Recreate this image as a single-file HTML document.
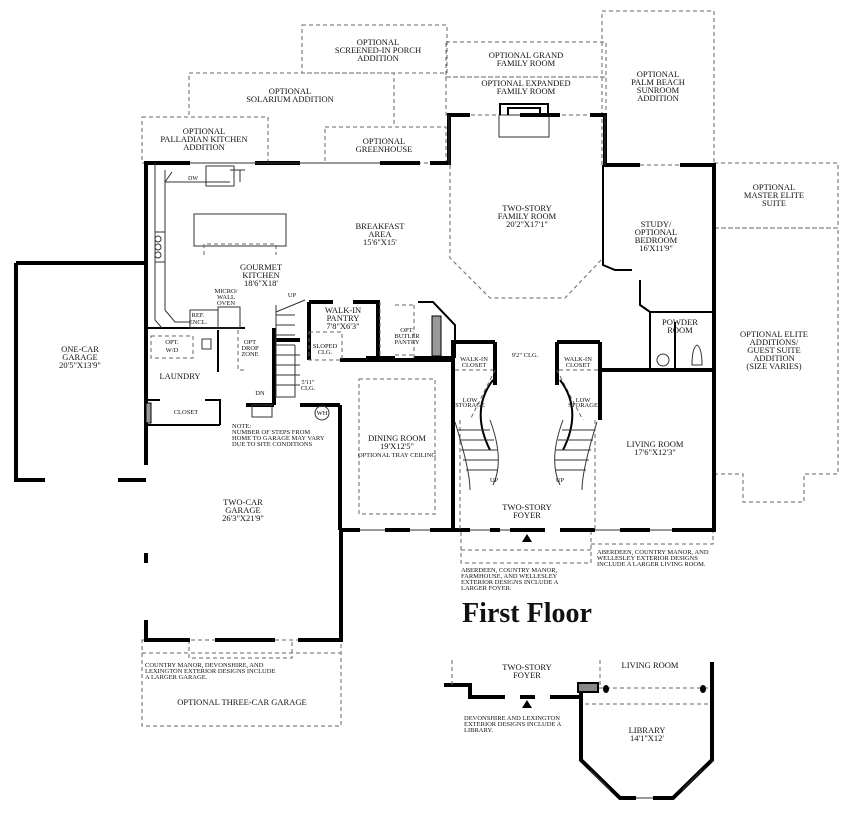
<!DOCTYPE html>
<html><head><meta charset="utf-8"><style>
html,body{margin:0;padding:0;background:#fff;}
svg{display:block;}
text{font-family:"Liberation Serif",serif;fill:#111;}
.t{font-size:8.5px;text-anchor:middle;}
.s{font-size:6.5px;}
.w{stroke:#000;stroke-width:4;fill:none;}
.tw{stroke:#000;stroke-width:2;fill:none;}
.d{stroke:#666;stroke-width:1;stroke-dasharray:4,3;fill:none;}
.l{stroke:#333;stroke-width:1;fill:none;}
</style></head><body>
<svg width="853" height="815" viewBox="0 0 853 815" xmlns="http://www.w3.org/2000/svg">
<rect class="d" x="302" y="25" width="145" height="48"/>
<rect class="d" x="446" y="42" width="160" height="35"/>
<rect class="d" x="446" y="77" width="160" height="38"/>
<rect class="d" x="602" y="11" width="112" height="154"/>
<path class="d" d="M189 115 V73 H394 V127"/>
<rect class="d" x="142" y="117" width="126" height="46"/>
<rect class="d" x="325" y="127" width="121" height="36"/>
<rect class="d" x="714" y="163" width="124" height="65"/>
<path class="d" d="M714 228 H838 V474 H804 V502 H743 V474 H714"/>
<rect class="d" x="142" y="640" width="199" height="86"/>
<path class="d" d="M142 653 H341 M189 640 V658 H292 V640"/>
<path class="d" d="M461 532 V563 H591 V532 M461 550 H591 M591 544 H713 V530"/>
<path class="d" d="M450 165 V258 L490 298 H565 L603 258 V165"/>
<rect class="l" x="499" y="115" width="50" height="22"/>
<path class="tw" d="M500 115 V104 H548 V115 M508 115 V108 H540 V115"/>
<path class="w" d="M146 163 H190 M255 163 H300 M380 163 H420 M430 163 H449 V115 H470 M520 115 H560 M590 115 H605 V165 H640 M680 165 H714 V532"/>
<path class="l" d="M190 163 H380"/>
<path class="l" d="M449 115 V165 M605 115 V165" stroke-width="1"/>
<path class="w" d="M146 161 V432"/>
<path class="w" d="M16 263 H146 M16 263 V482 M16 480 H45 M118 480 H146"/>
<path class="w" d="M146 430 V465 M146 553 V563 M146 620 V640 H190 M215 640 H275 M298 640 H341 V530"/>
<path class="w" d="M340 530 H360 M385 530 H410 M430 530 H470 M490 530 H500 M510 530 H545 M560 530 H595 M620 530 H650 M672 530 H714"/>
<path class="l" d="M360 530 H385 M410 530 H430 M470 530 H490 M500 530 H510 M595 530 H620 M650 530 H672"/>
<path class="w" d="M340 405 V530 M340 360 H453 M453 340 V530"/>
<path class="tw" d="M146 328 H245 M218 330 V372 M146 400 H160 M205 400 H220 V425 M146 425 H220"/>
<path class="w" d="M246 405 H274 M300 405 H340 M274 328 V405 M274 340 H300 M309 302 V360 M309 302 H333 M353 302 H380 M378 302 V358 M366 358 H395 M414 358 H455"/>
<path class="tw" d="M418 302 H433 L455 325 V358"/>
<rect x="432" y="316" width="9" height="40" fill="#999" stroke="#000"/>
<rect x="146" y="403" width="5" height="20" fill="#999" stroke="#000"/>
<path class="l" d="M155 163 V320 M155 320 L162 328 M165 170 V310 M165 310 L175 322 H190 M165 182 H230 M165 182 L172 172 M230 170 H245 M240 182 V170"/>
<rect class="l" x="190" y="310" width="28" height="18"/>
<rect class="l" x="218" y="307" width="22" height="21"/>
<rect class="l" x="206" y="166" width="28" height="20"/>
<rect class="l" x="155" y="232" width="10" height="30"/>
<circle class="l" cx="158" cy="239" r="3"/><circle class="l" cx="158" cy="247" r="3"/><circle class="l" cx="158" cy="255" r="3"/>
<rect class="l" x="194" y="214" width="92" height="32"/>
<path class="d" d="M204 255 V244 H276 V255"/>
<rect class="d" x="151" y="336" width="42" height="22"/>
<rect class="l" x="202" y="339" width="9" height="10"/>
<path class="d" d="M238 330 V370 H245"/>
<path class="l" d="M276 305 V397 H295 V345 M276 315 H295 M276 325 H295 M276 335 H295 M276 345 H295 M276 355 H300 M276 365 H300 M276 375 H300 M276 385 H300 M276 312 L305 300"/>
<rect class="d" x="309" y="332" width="33" height="28"/>
<path class="d" d="M380 302 V358 M395 305 H414 M395 355 H414 M414 305 V358"/>
<rect class="l" x="252" y="405" width="20" height="12"/>
<circle class="l" cx="322" cy="413" r="7"/>
<rect class="d" x="359" y="379" width="76" height="135"/>
<path class="w" d="M453 342 H495 M495 342 V385 M557 342 V385 M557 342 H600 M600 342 V420 M600 370 H714"/>
<path class="d" d="M455 370 H493 M559 370 H600 M495 370 Q485 390 470 420 M557 370 Q567 390 583 420 M460 420 V530 M595 420 V530"/>
<path class="tw" d="M493 380 Q470 410 490 450 M560 380 Q583 410 563 450"/>
<path class="l" d="M455 422 Q470 470 470 490 M490 420 Q505 460 493 485 M597 422 Q582 470 582 490 M563 420 Q548 460 560 485"/>
<path class="l" d="M458 430 H490 M459 440 H494 M461 450 H497 M463 460 H498 M466 470 H497 M594 430 H562 M593 440 H558 M591 450 H556 M589 460 H555 M586 470 H556"/>
<polygon points="527,534 522,542 532,542" fill="#000"/>
<path class="tw" d="M603 165 V265 L615 270 H632 M640 280 V305 L650 312 H712 M650 312 V370 M675 322 V370"/>
<circle class="l" cx="663" cy="360" r="6"/>
<path class="l" d="M692 365 Q692 348 697 345 Q702 348 702 365 Z"/>
<path class="w" d="M444 685 H470 V697 H505 M520 697 H535 M550 697 H583"/>
<path class="d" d="M452 660 V685 M600 660 V685 M585 688 H712 M585 704 H712"/>
<polygon points="527,700 522,708 532,708" fill="#000"/>
<rect x="578" y="683" width="20" height="9" fill="#888" stroke="#000" stroke-width="2"/>
<path class="w" d="M581 693 V760 L620 798 H636 M653 798 H673 L712 760 V662"/>
<path class="l" d="M636 798 H653 M590 770 L610 790 M702 770 L682 790"/>
<ellipse cx="606" cy="689" rx="3" ry="4" fill="#000"/><ellipse cx="703" cy="689" rx="3" ry="4" fill="#000"/>
<g class="t">
<text x="378" y="45">OPTIONAL</text><text x="378" y="53">SCREENED-IN PORCH</text><text x="378" y="61">ADDITION</text>
<text x="526" y="58">OPTIONAL GRAND</text><text x="526" y="66">FAMILY ROOM</text>
<text x="526" y="86">OPTIONAL EXPANDED</text><text x="526" y="94">FAMILY ROOM</text>
<text x="658" y="77">OPTIONAL</text><text x="658" y="85">PALM BEACH</text><text x="658" y="93">SUNROOM</text><text x="658" y="101">ADDITION</text>
<text x="290" y="94">OPTIONAL</text><text x="290" y="102">SOLARIUM ADDITION</text>
<text x="204" y="134">OPTIONAL</text><text x="204" y="142">PALLADIAN KITCHEN</text><text x="204" y="150">ADDITION</text>
<text x="384" y="144">OPTIONAL</text><text x="384" y="152">GREENHOUSE</text>
<text x="774" y="190">OPTIONAL</text><text x="774" y="198">MASTER ELITE</text><text x="774" y="206">SUITE</text>
<text x="774" y="337">OPTIONAL ELITE</text><text x="774" y="345">ADDITIONS/</text><text x="774" y="353">GUEST SUITE</text><text x="774" y="361">ADDITION</text><text x="774" y="369">(SIZE VARIES)</text>
<text x="527" y="211">TWO-STORY</text><text x="527" y="219">FAMILY ROOM</text><text x="527" y="227">20'2"X17'1"</text>
<text x="656" y="227">STUDY/</text><text x="656" y="235">OPTIONAL</text><text x="656" y="243">BEDROOM</text><text x="656" y="251">16'X11'9"</text>
<text x="380" y="229">BREAKFAST</text><text x="380" y="237">AREA</text><text x="380" y="245">15'6"X15'</text>
<text x="261" y="270">GOURMET</text><text x="261" y="278">KITCHEN</text><text x="261" y="286">18'6"X18'</text>
<text x="343" y="313">WALK-IN</text><text x="343" y="321">PANTRY</text><text x="343" y="329">7'8"X6'3"</text>
<text x="680" y="325">POWDER</text><text x="680" y="333">ROOM</text>
<text x="80" y="352">ONE-CAR</text><text x="80" y="360">GARAGE</text><text x="80" y="368">20'5"X13'9"</text>
<text x="180" y="379">LAUNDRY</text>
<text x="397" y="441">DINING ROOM</text><text x="397" y="449">19'X12'5"</text>
<text x="655" y="447">LIVING ROOM</text><text x="655" y="455">17'6"X12'3"</text>
<text x="527" y="510">TWO-STORY</text><text x="527" y="518">FOYER</text>
<text x="243" y="505">TWO-CAR</text><text x="243" y="513">GARAGE</text><text x="243" y="521">26'3"X21'9"</text>
<text x="242" y="705">OPTIONAL THREE-CAR GARAGE</text>
<text x="527" y="670">TWO-STORY</text><text x="527" y="678">FOYER</text>
<text x="650" y="668">LIVING ROOM</text>
<text x="647" y="733">LIBRARY</text><text x="647" y="741">14'1"X12'</text>
</g>
<g class="t s">
<text x="193" y="180" style="font-size:6px">DW</text>
<text x="226" y="293">MICRO/</text><text x="226" y="299">WALL</text><text x="226" y="305">OVEN</text>
<text x="198" y="317">REF.</text><text x="198" y="324">ENCL.</text>
<text x="172" y="344">OPT.</text><text x="172" y="352">W/D</text>
<text x="250" y="344">OPT</text><text x="250" y="350">DROP</text><text x="250" y="356">ZONE</text>
<text x="325" y="348">SLOPED</text><text x="325" y="354">CLG.</text>
<text x="308" y="384">5'11"</text><text x="308" y="390">CLG.</text>
<text x="186" y="414">CLOSET</text>
<text x="407" y="332">OPT.</text><text x="407" y="338">BUTLER</text><text x="407" y="344">PANTRY</text>
<text x="474" y="361">WALK-IN</text><text x="474" y="367">CLOSET</text>
<text x="578" y="361">WALK-IN</text><text x="578" y="367">CLOSET</text>
<text x="525" y="357">9'2" CLG.</text>
<text x="470" y="402">LOW</text><text x="470" y="407">STORAGE</text>
<text x="583" y="402">LOW</text><text x="583" y="407">STORAGE</text>
<text x="397" y="457">OPTIONAL TRAY CEILING</text>
<text x="292" y="297">UP</text><text x="260" y="395">DN</text>
<text x="322" y="415">WH</text>
<text x="494" y="482">UP</text><text x="560" y="482">UP</text>
</g>
<g class="s">
<text x="232" y="428">NOTE:</text><text x="232" y="434">NUMBER OF STEPS FROM</text><text x="232" y="440">HOME TO GARAGE MAY VARY</text><text x="232" y="446">DUE TO SITE CONDITIONS</text>
<text x="145" y="667">COUNTRY MANOR, DEVONSHIRE, AND</text><text x="145" y="673">LEXINGTON EXTERIOR DESIGNS INCLUDE</text><text x="145" y="679">A LARGER GARAGE.</text>
<text x="461" y="572">ABERDEEN, COUNTRY MANOR,</text><text x="461" y="578">FARMHOUSE, AND WELLESLEY</text><text x="461" y="584">EXTERIOR DESIGNS INCLUDE A</text><text x="461" y="590">LARGER FOYER.</text>
<text x="597" y="554">ABERDEEN, COUNTRY MANOR, AND</text><text x="597" y="560">WELLESLEY EXTERIOR DESIGNS</text><text x="597" y="566">INCLUDE A LARGER LIVING ROOM.</text>
<text x="464" y="720">DEVONSHIRE AND LEXINGTON</text><text x="464" y="726">EXTERIOR DESIGNS INCLUDE A</text><text x="464" y="732">LIBRARY.</text>
</g>
<text x="527" y="622" style="font-size:28px;font-weight:bold;text-anchor:middle">First Floor</text>
</svg>
</body></html>
